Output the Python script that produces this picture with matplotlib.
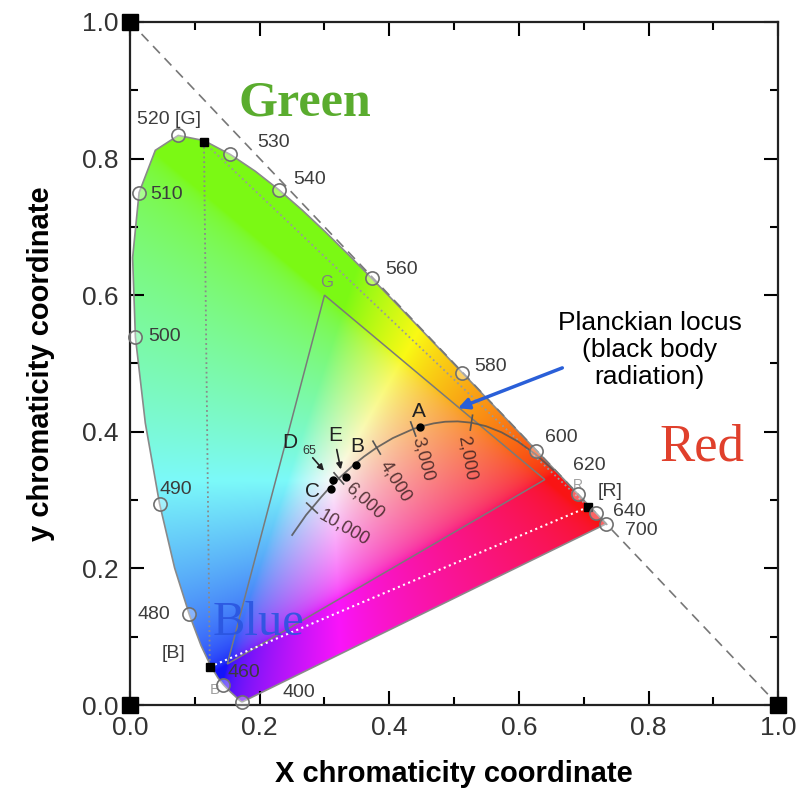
import numpy as np
import matplotlib
matplotlib.use("Agg")
import matplotlib.pyplot as plt
from matplotlib.patches import Polygon
from matplotlib.ticker import MultipleLocator

plt.rcParams['font.family'] = ['Liberation Sans', 'DejaVu Sans']

# CIE 1931 spectral locus, 380..700 nm in 5 nm steps
wl = list(range(380, 705, 5))
loc_x = [0.1741, 0.1740, 0.1738, 0.1736, 0.1733, 0.1730, 0.1726, 0.1721, 0.1714, 0.1703,
         0.1689, 0.1669, 0.1644, 0.1611, 0.1566, 0.1510, 0.1440, 0.1355, 0.1241, 0.1096,
         0.0913, 0.0687, 0.0454, 0.0235, 0.0082, 0.0039, 0.0139, 0.0389, 0.0743, 0.1142,
         0.1547, 0.1929, 0.2296, 0.2658, 0.3016, 0.3373, 0.3731, 0.4087, 0.4441, 0.4788,
         0.5125, 0.5448, 0.5752, 0.6029, 0.6270, 0.6482, 0.6658, 0.6801, 0.6915, 0.7006,
         0.7079, 0.7140, 0.7190, 0.7230, 0.7260, 0.7283, 0.7300, 0.7311, 0.7320, 0.7327,
         0.7334, 0.7340, 0.7344, 0.7346, 0.7347]
loc_y = [0.0050, 0.0050, 0.0049, 0.0049, 0.0048, 0.0048, 0.0048, 0.0048, 0.0051, 0.0058,
         0.0069, 0.0086, 0.0109, 0.0138, 0.0177, 0.0227, 0.0297, 0.0399, 0.0578, 0.0868,
         0.1327, 0.2007, 0.2950, 0.4127, 0.5384, 0.6548, 0.7502, 0.8120, 0.8338, 0.8262,
         0.8059, 0.7816, 0.7543, 0.7243, 0.6923, 0.6589, 0.6245, 0.5896, 0.5547, 0.5202,
         0.4866, 0.4544, 0.4242, 0.3965, 0.3725, 0.3514, 0.3340, 0.3197, 0.3083, 0.2993,
         0.2920, 0.2859, 0.2809, 0.2770, 0.2740, 0.2717, 0.2700, 0.2689, 0.2680, 0.2673,
         0.2666, 0.2660, 0.2656, 0.2654, 0.2653]

circle_nm = [400, 460, 480, 490, 500, 510, 520, 530, 540, 560, 580, 600, 620, 640, 700]

# wavelength labels (text, x, y)
nm_text = ['520 [G]', '530', '540', '510', '560', '500', '490', '480', '[B]', '460', '400',
           '580', '600', '620', '[R]', '640', '700']
nm_tx = [0.011, 0.196, 0.252, 0.031, 0.394, 0.028, 0.046, 0.011, 0.049, 0.151, 0.235,
         0.531, 0.640, 0.684, 0.721, 0.745, 0.764]
nm_ty = [0.857, 0.823, 0.769, 0.747, 0.637, 0.539, 0.315, 0.133, 0.075, 0.047, 0.019,
         0.496, 0.392, 0.350, 0.312, 0.283, 0.256]

# Planckian locus
planck_T = [1000, 1200, 1400, 1600, 1800, 2000, 2200, 2400, 2600, 2800, 3000, 3500, 4000,
            4500, 5000, 6000, 7000, 8000, 10000, 12000, 15000, 20000, 30000]
planck_x = [0.6528, 0.6251, 0.5985, 0.5730, 0.5493, 0.5267, 0.5056, 0.4862, 0.4685, 0.4525,
            0.4369, 0.4053, 0.3805, 0.3608, 0.3451, 0.3221, 0.3064, 0.2952, 0.2807, 0.2716,
            0.2637, 0.2565, 0.2501]
planck_y = [0.3444, 0.3674, 0.3858, 0.3993, 0.4082, 0.4133, 0.4152, 0.4147, 0.4123, 0.4087,
            0.4041, 0.3907, 0.3768, 0.3636, 0.3516, 0.3318, 0.3166, 0.3048, 0.2884, 0.2782,
            0.2674, 0.2577, 0.2489]
temp_ticks = [2000, 3000, 4000, 6000, 10000]
temp_text = ['2,000', '3,000', '4,000', '6,000', '10,000']
temp_tx = [0.520, 0.452, 0.409, 0.362, 0.331]
temp_ty = [0.361, 0.360, 0.327, 0.298, 0.259]
temp_rot = [-80, -75, -58, -42, -30]

# standard illuminants
illum_x = [0.4476, 0.3484, 0.3101, 0.3127, 0.3333]
illum_y = [0.4074, 0.3516, 0.3162, 0.3290, 0.3333]

# display triangle (sRGB) and primaries [R] [G] [B]
tri_x = [0.64, 0.30, 0.15]
tri_y = [0.33, 0.60, 0.06]
prim_x = [0.707, 0.114, 0.123]
prim_y = [0.290, 0.824, 0.056]

fig = plt.figure(figsize=(8.03, 7.99), dpi=100)
ax = fig.add_axes([0.162, 0.1176, 0.807, 0.855])
ax.set_xlim(0, 1)
ax.set_ylim(0, 1)

# colour fill of the horseshoe
gx, gy = np.meshgrid(np.linspace(0, 0.76, 500), np.linspace(0.002, 0.86, 500))
XYZ = np.stack([gx / gy, np.ones_like(gx), (1 - gx - gy) / gy])
M = np.array([[3.2406, -1.5372, -0.4986],
              [-0.9689, 1.8758, 0.0415],
              [0.0557, -0.2040, 1.0570]])
rgb = np.einsum('ij,jkl->kli', M, XYZ)
rgb = np.clip(rgb, 0, None)
rgb = rgb / (rgb.max(axis=2, keepdims=True) + 1e-12)
rgb = np.where(rgb <= 0.0031308, 12.92 * rgb, 1.055 * rgb ** (1 / 2.4) - 0.055)
rgb[..., 0] = np.maximum(rgb[..., 0], 0.45 * rgb[..., 1])   # lime-ish greens like the original
rgb = 0.9 * rgb + 0.08
rgb = np.clip(rgb, 0, 1)
horseshoe = Polygon(np.column_stack([loc_x, loc_y]), closed=True, facecolor='none',
                    edgecolor='#8a8a8a', lw=1.2, zorder=2)
ax.add_patch(horseshoe)
im = ax.imshow(rgb, extent=(0, 0.76, 0.002, 0.86), origin='lower', aspect='auto',
               interpolation='bilinear', zorder=1)
im.set_clip_path(horseshoe)

# diagonal x + y = 1
ax.plot([0, 1], [1, 0], color='#777777', lw=1.2, dashes=(6, 4), zorder=3)

# triangles
ax.add_patch(Polygon(np.column_stack([tri_x, tri_y]), closed=True, fill=False,
                     edgecolor='#7a7a7a', lw=1.1, zorder=3))
ax.plot([prim_x[1], prim_x[2]], [prim_y[1], prim_y[2]], color='#8a8a8a', ls=':', lw=1.3, zorder=3)
ax.plot([prim_x[1], prim_x[0]], [prim_y[1], prim_y[0]], color='#9a9a9a', ls=':', lw=1.3, zorder=3)
ax.plot([prim_x[2], prim_x[0]], [prim_y[2], prim_y[0]], color='white', ls=':', lw=1.5, zorder=3)
ax.plot(prim_x, prim_y, 's', color='black', ms=6, zorder=6)
ax.text(0.304, 0.618, 'G', color='#808080', fontsize=12, ha='center', va='center', zorder=5)
ax.text(0.691, 0.322, 'R', color='#a0a0a0', fontsize=10, ha='center', va='center', zorder=5)
ax.text(0.131, 0.022, 'B', color='#a0a0a0', fontsize=11, ha='center', va='center', zorder=5)

# wavelength circles
cx = [loc_x[wl.index(n)] for n in circle_nm]
cy = [loc_y[wl.index(n)] for n in circle_nm]
ax.plot(cx, cy, 'o', ms=9.5, mfc=(1, 1, 1, 0.35), mec='#707070', mew=1.2, zorder=6, clip_on=False)
for t, x, y in zip(nm_text, nm_tx, nm_ty):
    ax.text(x, y, t, fontsize=14, color='#3c3c3c', ha='left', va='center', zorder=7)

# Planckian locus
ax.plot(planck_x, planck_y, color='#555555', lw=1.3, alpha=0.85, zorder=4)
for T in temp_ticks:
    i = planck_T.index(T)
    dx = planck_x[i + 1] - planck_x[i - 1]
    dy = planck_y[i + 1] - planck_y[i - 1]
    n = np.hypot(dx, dy)
    nx, ny = -dy / n * 0.011, dx / n * 0.011
    ax.plot([planck_x[i] - nx, planck_x[i] + nx], [planck_y[i] - ny, planck_y[i] + ny],
            color='#555555', lw=1.2, zorder=4)
for t, x, y, r in zip(temp_text, temp_tx, temp_ty, temp_rot):
    ax.text(x, y, t, fontsize=13, color='#3a2020', alpha=0.85, rotation=r,
            ha='center', va='center', zorder=5)

ax.plot(illum_x, illum_y, 'o', color='black', ms=5, zorder=6)
ax.text(0.446, 0.430, 'A', fontsize=15, color='#222222', ha='center', va='center', zorder=7)
ax.text(0.350, 0.378, 'B', fontsize=15, color='#222222', ha='center', va='center', zorder=7)
ax.text(0.316, 0.395, 'E', fontsize=15, color='#222222', ha='center', va='center', zorder=7)
ax.text(0.281, 0.312, 'C', fontsize=15, color='#222222', ha='center', va='center', zorder=7)
ax.text(0.247, 0.385, 'D', fontsize=15, color='#222222', ha='center', va='center', zorder=7)
ax.text(0.276, 0.372, '65', fontsize=9, color='#333333', ha='center', va='center', zorder=7)
ax.annotate('', xy=(0.326, 0.341), xytext=(0.318, 0.378),
            arrowprops=dict(arrowstyle='-|>', color='#222222', lw=1.2, mutation_scale=9), zorder=7)
ax.annotate('', xy=(0.302, 0.340), xytext=(0.279, 0.365),
            arrowprops=dict(arrowstyle='-|>', color='#222222', lw=1.2, mutation_scale=9), zorder=7)

# big colour names
ax.text(0.270, 0.880, 'Green', fontsize=36, fontweight='bold', family='Liberation Serif',
        color='#5aac2e', ha='center', va='center', zorder=7)
ax.text(0.883, 0.377, 'Red', fontsize=38, family='Liberation Serif',
        color='#e0402c', ha='center', va='center', zorder=7)
ax.text(0.198, 0.120, 'Blue', fontsize=35, family='Liberation Serif',
        color='#2a55e0', alpha=0.9, ha='center', va='center', zorder=7)

ax.text(0.802, 0.520, 'Planckian locus\n(black body\nradiation)', fontsize=19,
        ha='center', va='center', linespacing=1.15, zorder=7)
ax.annotate('', xy=(0.502, 0.433), xytext=(0.671, 0.495),
            arrowprops=dict(arrowstyle='-|>', color='#2a5fd8', lw=2.5, mutation_scale=16), zorder=7)

# corner squares
ax.plot([0, 0, 1], [0, 1, 0], 's', color='black', ms=11, clip_on=False, zorder=10)

ax.xaxis.set_major_locator(MultipleLocator(0.2))
ax.xaxis.set_minor_locator(MultipleLocator(0.1))
ax.yaxis.set_major_locator(MultipleLocator(0.2))
ax.yaxis.set_minor_locator(MultipleLocator(0.1))
ax.xaxis.set_major_formatter(lambda v, p: f'{v:.1f}')
ax.yaxis.set_major_formatter(lambda v, p: f'{v:.1f}')
ax.tick_params(which='both', direction='in', top=True, right=True, width=1.5,
               labelsize=19, labelcolor='#333333', pad=8)
ax.tick_params(which='major', length=10)
ax.tick_params(which='minor', length=6)
for s in ax.spines.values():
    s.set_linewidth(1.6)
    s.set_color('#222222')

ax.set_xlabel('X chromaticity coordinate', fontsize=21, fontweight='bold', labelpad=14)
ax.set_ylabel('y chromaticity coordinate', fontsize=21, fontweight='bold', labelpad=20)

fig.savefig('out.png', dpi=100)
